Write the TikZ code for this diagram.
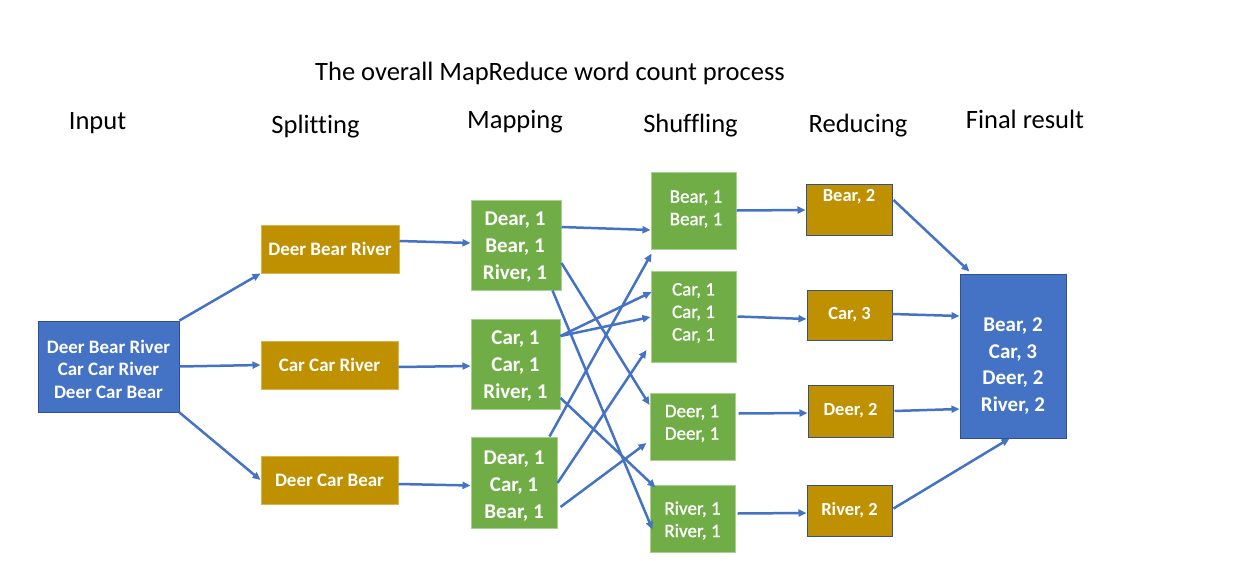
\documentclass[tikz,border=0pt]{standalone}
\usepackage{fontspec}
\setmainfont{Carlito}[Ligatures=NoCommon]
\newfontfamily\semib{Carlito}[FakeBold=1.2,Ligatures=NoCommon]
\usetikzlibrary{arrows.meta,calc}
\definecolor{bblue}{HTML}{4472C4}
\definecolor{bborder}{HTML}{2F528F}
\definecolor{gold}{HTML}{BF9000}
\definecolor{goldb}{HTML}{D9B44A}
\definecolor{grn}{HTML}{70AD47}
\definecolor{grnb}{HTML}{A9D18E}
\definecolor{arr}{HTML}{4472C4}
\begin{document}
\begin{tikzpicture}[x=1pt,y=-1pt,
  hdr/.style={anchor=base,font=\fontsize{26.5}{30}\selectfont,text=black},
  bluebox/.style={draw=bborder,fill=bblue,line width=1pt,text=white,align=center,inner sep=0pt},
  goldbox/.style={draw=goldb,fill=gold,line width=1pt,text=white,align=center,inner sep=0pt,font=\bfseries\fontsize{19}{23}\selectfont},
  redbox/.style={draw=bborder,fill=gold,line width=1pt,text=white,align=center,inner sep=0pt,font=\bfseries\fontsize{18.5}{23}\selectfont},
  grnbox/.style={draw=grnb,fill=grn,line width=1pt,text=white},
  wtxt/.style={text=white,align=center,inner sep=0pt},
  mapfont/.style={font=\bfseries\fontsize{21}{27}\selectfont},
  shuffont/.style={font=\semib\fontsize{19}{22.5}\selectfont},
  con/.style={draw=arr,line width=2.5pt,-{Triangle[length=8pt,width=7pt]}}
]
\useasboundingbox[fill=white] (0,0) rectangle (1256,560);

% headers
\node[hdr] (title) at (550,80) {The overall MapReduce word count process};
\node[hdr] (hin) at (97.5,129) {Input};
\node[hdr] (hsp) at (315.5,133) {Splitting};
\node[hdr] (hma) at (515,128) {Mapping};
\node[hdr] (hsh) at (690.5,132) {Shuffling};
\node[hdr] (hre) at (858,132) {Reducing};
\node[hdr] (hfi) at (1025,128) {Final result};

% input
\node[bluebox,minimum width=141pt,minimum height=91pt] (in) at (108.5,366.5) {};
\node[wtxt,font=\bfseries\fontsize{19}{22.5}\selectfont] (int) at (108.5,369) {Deer Bear River\\Car Car River\\Deer Car Bear};

% splitting
\node[goldbox,minimum width=138pt,minimum height=48pt] (s1) at (330,249) {Deer Bear River};
\node[goldbox,minimum width=137pt,minimum height=48pt] (s2) at (329.5,365) {Car Car River};
\node[goldbox,minimum width=137pt,minimum height=48pt] (s3) at (329.5,480) {Deer Car Bear};

% mapping
\node[grnbox,minimum width=90pt,minimum height=90pt] (m1) at (516,245) {};
\node[grnbox,minimum width=89pt,minimum height=90pt] (m2) at (515.5,364) {};
\node[grnbox,minimum width=86pt,minimum height=91pt] (m3) at (514,482.5) {};
\node[wtxt,mapfont] (m1t) at (515,247) {Dear, 1\\Bear, 1\\River, 1};
\node[wtxt,mapfont] (m2t) at (515.5,366) {Car, 1\\Car, 1\\River, 1};
\node[wtxt,mapfont] (m3t) at (514,486) {Dear, 1\\Car, 1\\Bear, 1};

% shuffling
\node[grnbox,minimum width=85pt,minimum height=77pt] (h1) at (693.5,210.5) {};
\node[grnbox,minimum width=85pt,minimum height=91pt] (h2) at (693.5,316.5) {};
\node[grnbox,minimum width=85pt,minimum height=67pt] (h3) at (692.5,426.5) {};
\node[grnbox,minimum width=85pt,minimum height=67pt] (h4) at (692.5,518.5) {};
\node[wtxt,shuffont] (h1t) at (696,209) {Bear, 1\\Bear, 1};
\node[wtxt,shuffont] (h2t) at (693.5,313) {Car, 1\\Car, 1\\Car, 1};
\node[wtxt,shuffont] (h3t) at (692,423.5) {Deer, 1\\Deer, 1};
\node[wtxt,shuffont] (h4t) at (692.5,520.5) {River, 1\\River, 1};

% reducing
\node[redbox,minimum width=86pt,minimum height=51pt] (r1) at (849,210) {};
\node[wtxt,font=\bfseries\fontsize{18.5}{23}\selectfont] (r1t) at (849,197) {Bear, 2};
\node[redbox,minimum width=85pt,minimum height=50pt] (r2) at (849.5,315) {Car, 3};
\node[redbox,minimum width=85pt,minimum height=52pt] (r3) at (850.5,411) {Deer, 2};
\node[redbox,minimum width=85pt,minimum height=51pt] (r4) at (849.5,510.5) {River, 2};

% final
\node[bluebox,minimum width=106pt,minimum height=164pt] (f) at (1013,356) {};
\node[wtxt,font=\bfseries\fontsize{21}{26.5}\selectfont] (ft) at (1013,366) {Bear, 2\\Car, 3\\Deer, 2\\River, 2};

% connectors: input -> splitting
\draw[con] (in.north east) -- (s1.south west);
\draw[con] (in.east) -- (s2.west);
\draw[con] (in.south east) -- (s3.west);
% splitting -> mapping
\draw[con] ($(s1.east)+(0,-8)$) -- ($(m1.west)+(0,-2)$);
\draw[con] ($(s2.east)+(0,2)$) -- ($(m2.west)+(0,2)$);
\draw[con] ($(s3.east)+(0,4)$) -- ($(m3.west)+(0,3)$);
% mapping -> shuffling
\draw[con] ($(m1.east)+(0,-18)$) -- ($(h1.west)+(0,19.5)$);
\draw[con] ($(m1.east)+(0,18)$) -- ($(h3.west)+(0,-21.5)$);
\draw[con] ($(m1.south east)+(-9,0)$) -- ($(h4.west)+(3,11)$);
\draw[con] ($(m2.east)+(0,-28)$) -- ($(h2.west)+(1,-24.5)$);
\draw[con] ($(m2.east)+(0,-28)$) -- ($(h2.west)+(0,0.5)$);
\draw[con] ($(m2.east)+(0,34)$) -- ($(h4.north west)+(6,3)$);
\draw[con] ($(m3.north east)+(-8,0)$) -- ($(h1.south west)+(1,4)$);
\draw[con] ($(m3.east)+(0,0.5)$) -- ($(h2.west)+(-4,33.5)$);
\draw[con] ($(m3.east)+(3,24.5)$) -- ($(h3.west)+(-3,16.5)$);
% shuffling -> reducing
\draw[con] (h1.east) -- (r1.west);
\draw[con] ($(h2.east)+(1,0)$) -- ($(r2.west)+(0,4)$);
\draw[con] ($(h3.east)+(3,-13)$) -- ($(r3.west)+(0,2)$);
\draw[con] ($(h4.east)+(2,-5)$) -- ($(r4.west)+(0,2.5)$);
% reducing -> final
\draw[con] ($(r1.east)+(1,-10)$) -- ($(f.north west)+(10,-2)$);
\draw[con] ($(r2.east)+(0,-1)$) -- ($(f.west)+(0,-40)$);
\draw[con] ($(r3.east)+(1,0)$) -- ($(f.west)+(0,53)$);
\draw[con] ($(r4.east)+(1,-2)$) -- ($(f.south west)+(50,0)$);
\end{tikzpicture}
\end{document}
